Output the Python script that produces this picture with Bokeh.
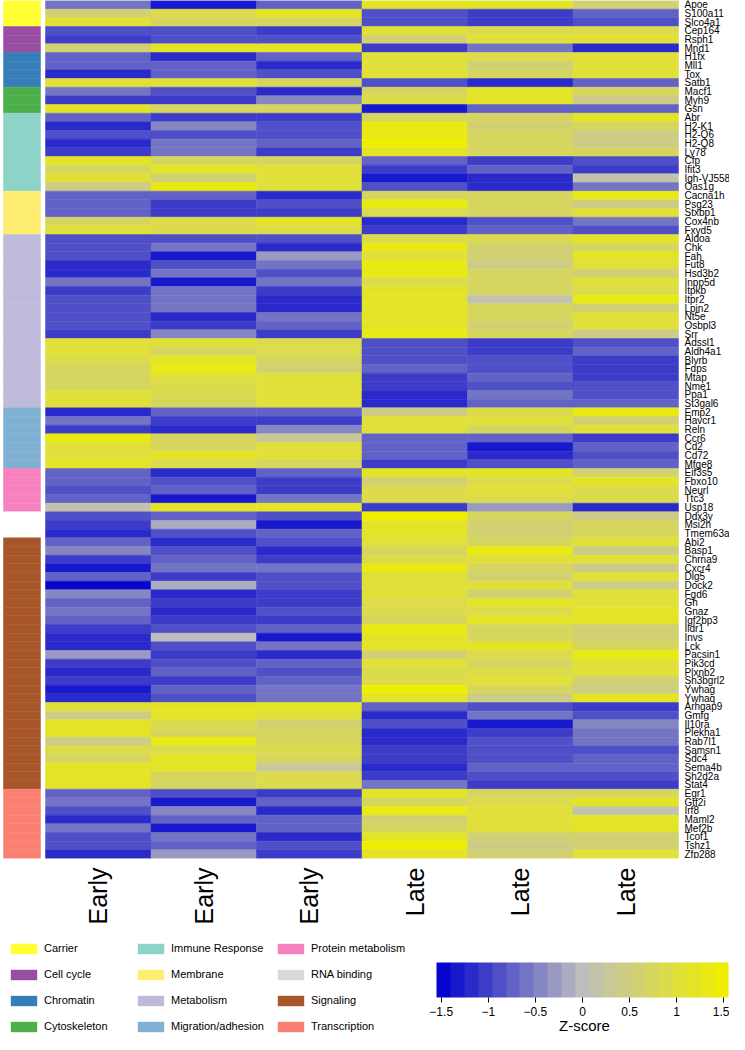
import math
import numpy as np
from bokeh.plotting import figure
from bokeh.models import (ColumnDataSource, LinearColorMapper, ColorBar, FixedTicker,
                          LinearAxis, Range1d, Legend, LegendItem, CustomJSTickFormatter, Label)
from bokeh.core.properties import value
from bokeh.transform import transform
from bokeh.layouts import column
from bokeh.embed import file_html
from bokeh.resources import INLINE

# ---------------- data ----------------
genes = ["Apoe", "S100a11", "Slco4a1", "Cep164", "Rsph1", "Mnd1", "H1fx", "Mll1", "Tox", "Satb1",
         "Macf1", "Myh9", "Gsn", "Abr", "H2-K1", "H2-Q6", "H2-Q8", "Ly78", "Cfp", "Ifit3",
         "Igh-VJ558", "Oas1g", "Cacna1h", "Psg23", "Stxbp1", "Cox4nb", "Fxyd5", "Aldoa", "Chk", "Fah",
         "Fut8", "Hsd3b2", "Inpp5d", "Itpkb", "Itpr2", "Lpin2", "Nt5e", "Osbpl3", "Srr", "Adssl1",
         "Aldh4a1", "Blvrb", "Fdps", "Mtap", "Nme1", "Ppa1", "St3gal6", "Emp2", "Havcr1", "Reln",
         "Ccr6", "Cd2", "Cd72", "Mfge8", "Eif3s5", "Fbxo10", "Neurl", "Ttc3", "Usp18", "Ddx3y",
         "Msi2h", "Tmem63a", "Abi2", "Basp1", "Chrna9", "Cxcr4", "Dlg5", "Dock2", "Fgd6", "Gh",
         "Gnaz", "Igf2bp3", "Ildr1", "Invs", "Lck", "Pacsin1", "Pik3cd", "Plxnb2", "Sh3bgrl2", "Ywhag",
         "Ywhaq", "Arhgap9", "Gmfg", "Il10ra", "Plekha1", "Rab7l1", "Samsn1", "Sdc4", "Sema4b", "Sh2d2a",
         "Stat4", "Egr1", "Gtf2i", "Irf8", "Maml2", "Mef2b", "Tcof1", "Tshz1", "Zfp288"]

samples = ["Early", "Early", "Early", "Late", "Late", "Late"]

early1 = [-0.59, 0.59, 1.03, -0.89, -1.03, 0.59, -0.74, -0.74, -1.18, 1.03,
          -0.59, -1.03, 1.18, -0.74, -1.18, -0.89, -1.18, -1.03, 1.18, 0.74,
          1.03, 0.44, -0.74, -0.74, -0.74, 0.74, 1.03, -0.89, -0.89, -0.89,
          -1.18, -1.18, -0.59, -1.03, -0.89, -0.89, -0.89, -0.89, -1.03, 1.03,
          1.03, 0.89, 0.74, 0.74, 0.74, 1.03, 1.03, -1.18, -0.59, -1.03,
          1.33, 1.03, 1.03, 1.18, -0.74, -0.74, -0.89, -0.74, 0.15, -0.89,
          -1.03, -1.18, -0.74, -0.44, -1.03, -1.33, -0.74, -1.48, -0.44, -0.74,
          -0.59, -0.74, -1.03, -1.18, -1.18, -0.30, -1.03, -1.18, -1.03, -1.33,
          -1.18, 1.03, 0.44, 1.18, 1.18, 0.44, 0.89, 0.74, 1.18, 1.18,
          1.18, -0.74, -0.59, -0.89, -1.18, -0.59, -0.89, -0.89, -1.18]

early2 = [-1.33, 0.89, 0.74, -0.89, -0.89, 1.18, -1.18, -0.74, -0.74, 1.03,
          -0.89, -1.03, 0.74, -1.03, -0.44, -0.89, -0.59, -0.59, 0.74, 1.18,
          0.59, 1.33, -0.74, -1.03, -1.03, 0.89, 0.89, -0.89, -0.59, -1.33,
          -0.89, -0.59, -1.33, -0.59, -0.59, -0.59, -1.18, -1.03, -0.44, 1.03,
          0.74, 1.18, 1.33, 1.03, 0.89, 0.89, 0.74, -0.74, -1.03, -1.18,
          0.74, 0.74, 1.18, 0.89, -1.18, -0.89, -0.74, -1.33, 1.18, -0.74,
          -0.15, -0.89, -1.18, -0.89, -0.74, -0.59, -1.03, -0.15, -1.18, -1.03,
          -1.18, -1.03, -0.89, 0.0, -0.89, -1.03, -0.89, -0.74, -1.03, -0.74,
          -0.89, 1.18, 1.18, 0.89, 0.74, 1.33, 0.89, 1.18, 1.18, 0.74,
          0.74, -0.89, -1.33, -0.44, -0.74, -1.33, -0.59, -0.74, -0.30]

early3 = [-0.74, 1.18, 0.74, -1.03, -0.89, 1.18, -0.74, -1.18, -0.89, 0.74,
          -1.18, -0.44, 0.74, -1.03, -0.89, -0.89, -0.74, -1.03, 0.74, 1.03,
          1.03, 1.03, -1.18, -0.89, -1.03, 1.18, 0.89, -0.89, -1.18, -0.30,
          -0.59, -0.89, -0.59, -1.03, -1.18, -1.18, -0.59, -0.74, -1.03, 0.89,
          0.89, 0.74, 0.59, 1.03, 1.03, 1.03, 1.03, -0.74, -1.03, -0.44,
          0.30, 1.03, 1.03, 0.74, -0.74, -1.03, -1.03, -0.59, 1.18, -0.89,
          -1.33, -0.74, -0.89, -1.18, -1.03, -0.59, -0.89, -0.89, -1.03, -1.03,
          -0.89, -1.03, -0.74, -1.33, -0.59, -1.18, -0.74, -0.89, -0.74, -0.59,
          -0.59, 1.18, 1.03, 0.59, 0.74, 0.74, 0.89, 0.74, 0.30, 0.89,
          0.89, -1.03, -0.74, -1.18, -0.74, -0.74, -1.18, -0.89, -1.03]

late1 = [1.18, -0.89, -0.89, 1.03, 0.59, -1.03, 1.03, 1.03, 1.03, -0.89,
         0.74, 0.89, -1.33, 0.74, 1.33, 1.33, 1.48, 1.18, -0.74, -1.03,
         -1.33, -0.89, 0.74, 1.33, 0.89, -1.18, -1.03, 0.89, 1.33, 1.03,
         1.33, 1.33, 0.89, 1.18, 1.18, 1.18, 1.18, 1.18, 1.33, -0.89,
         -0.89, -0.89, -0.74, -1.03, -1.03, -1.18, -1.18, 0.44, 1.03, 1.03,
         -0.74, -0.74, -0.74, -1.03, 1.18, 0.59, 0.89, 0.89, -1.03, 1.48,
         1.18, 1.18, 1.03, 0.74, 0.89, 1.33, 1.03, 1.03, 1.03, 0.89,
         0.89, 0.74, 1.33, 1.18, 1.18, 0.59, 1.03, 0.89, 0.89, 1.48,
         1.18, -0.74, -1.18, -0.89, -1.18, -1.18, -1.03, -1.03, -1.18, -1.03,
         -0.59, 1.18, 0.74, 1.33, 0.59, 0.74, 1.18, 1.48, 1.18]

late2 = [1.18, -1.03, -1.03, 0.89, 1.03, -0.59, 0.89, 0.59, 0.74, -1.18,
         1.18, 1.18, -0.74, 0.74, 0.59, 0.74, 0.74, 0.74, -1.03, -0.74,
         -1.18, -1.18, 0.74, 0.74, 0.74, -0.89, -0.74, 0.89, 0.59, 0.59,
         0.44, 0.74, 0.74, 0.74, 0.15, 0.74, 0.74, 0.59, 0.74, -1.03,
         -1.03, -0.89, -0.89, -0.74, -0.89, -0.59, -0.74, 0.89, 1.03, 0.74,
         -0.74, -1.33, -1.18, -0.89, 1.18, 0.89, 1.03, 0.89, -0.30, 0.74,
         0.59, 0.59, 0.74, 1.33, 1.03, 0.74, 0.59, 1.03, 0.59, 1.18,
         0.89, 1.18, 0.74, 0.74, 1.18, 0.89, 0.74, 0.89, 1.03, 0.74,
         0.44, -0.89, -0.59, -1.33, -1.03, -0.89, -0.89, -0.89, -0.74, -0.89,
         -1.03, 0.74, 0.89, 1.03, 1.03, 1.03, 0.59, 0.44, 0.59]

late3 = [0.59, -0.74, -0.89, 0.89, 1.03, -1.18, 1.03, 1.03, 1.03, -0.74,
         0.74, 0.44, -0.74, 1.18, 0.74, 0.44, 0.44, 0.74, -0.89, -1.03,
         0.15, -0.59, 1.33, 0.44, 1.03, -0.59, -0.89, 1.18, 0.74, 1.18,
         1.03, 0.59, 1.03, 0.89, 1.33, 0.59, 1.03, 1.03, 0.44, -0.89,
         -0.74, -1.03, -1.03, -1.03, -0.89, -0.89, -0.74, 1.33, 0.59, 1.03,
         -1.03, -0.74, -0.89, -0.74, 0.59, 1.18, 0.89, 0.89, -1.18, 0.44,
         0.74, 0.74, 1.03, 0.44, 1.03, 0.44, 1.03, 0.44, 1.03, 1.03,
         1.18, 1.18, 0.59, 0.59, 0.74, 1.33, 1.03, 1.03, 0.59, 0.44,
         1.18, -1.03, -0.89, -0.44, -0.59, -0.59, -0.89, -0.74, -0.74, -0.89,
         -1.03, 0.74, 1.18, 0.15, 1.18, 1.18, 0.59, 0.59, 1.03]

categories = ["Carrier", "Cell cycle", "Chromatin", "Cytoskeleton", "Immune Response", "Membrane",
              "Metabolism", "Migration/adhesion", "Protein metabolism", "RNA binding", "Signaling",
              "Transcription"]
category_counts = [3, 3, 4, 3, 9, 5, 20, 7, 5, 3, 29, 8]

colorbar_ticks = [-1.5, -1, -0.5, 0, 0.5, 1, 1.5]

# ---------------- styles ----------------
category_colors = ["#FFFF33", "#984EA3", "#377EB8", "#4DAF4A", "#8DD3C7", "#FFED6F",
                   "#BEBADA", "#80B1D3", "#F781BF", "#D9D9D9", "#A65628", "#FB8072"]
sidebar_override = {"RNA binding": "#FFFFFF"}
FONT = "Liberation Sans"

W = 729
H1 = 938
H2 = 96
HEAT_LEFT = 45      # canvas px where heatmap starts
HEAT_RIGHT = 678    # canvas px where heatmap ends
SIDE_L, SIDE_R = 3, 40
LABEL_GAP = 6

# palette: mediumblue -> gray -> yellow2, 21 steps
stops = [(5, 5, 205), (190, 190, 190), (238, 238, 0)]
palette = []
n_col = 21
for i in range(n_col):
    t = i / (n_col - 1) * 2
    seg = 0 if t <= 1 else 1
    f = t - seg
    a, b = stops[seg], stops[seg + 1]
    palette.append("#%02x%02x%02x" % tuple(int(round(a[k] + (b[k] - a[k]) * f)) for k in range(3)))
mapper = LinearColorMapper(palette=palette, low=-1.55, high=1.55)

# ---------------- heatmap figure ----------------
cols = [early1, early2, early3, late1, late2, late3]
hx, hy, hz = [], [], []
for j, col in enumerate(cols):
    for i, v in enumerate(col):
        hx.append(j + 0.5)
        hy.append(i + 0.5)
        hz.append(v)
heat_src = ColumnDataSource(dict(x=hx, y=hy, z=hz))

n_rows = len(genes)
n_cols = len(samples)
ppc = (HEAT_RIGHT - HEAT_LEFT) / n_cols
x0 = -HEAT_LEFT / ppc
x1 = n_cols + (W - HEAT_RIGHT) / ppc

p = figure(width=W, height=H1, x_range=Range1d(x0, x1), y_range=Range1d(n_rows, 0),
           output_backend="svg", toolbar_location=None, x_axis_location=None, y_axis_location=None,
           min_border_left=0, min_border_right=0, min_border_top=0, min_border_bottom=80,
           outline_line_color=None, title=None)
p.grid.visible = False

p.rect(x="x", y="y", width=1, height=1, source=heat_src,
       fill_color=transform("z", mapper), line_color=transform("z", mapper), line_width=0.5)

# sidebar
row_cat = []
for c, nn in zip(categories, category_counts):
    row_cat += [c] * nn
cmap = dict(zip(categories, category_colors))
side_col = [sidebar_override.get(c, cmap[c]) for c in row_cat]
side_src = ColumnDataSource(dict(y=[i + 0.5 for i in range(len(row_cat))], color=side_col))
sx0 = x0 + SIDE_L / ppc
sw = (SIDE_R - SIDE_L) / ppc
p.rect(x=sx0 + sw / 2, y="y", width=sw, height=1, source=side_src,
       fill_color="color", line_color="color", line_width=0.5)

# gene labels
gene_src = ColumnDataSource(dict(y=[i + 0.5 for i in range(n_rows)], gene=genes))
p.text(x=n_cols + LABEL_GAP / ppc, y="y", text="gene", source=gene_src,
       text_font=value(FONT), text_font_size=value("10px"), text_color="black",
       text_align="left", text_baseline="middle")

# sample labels (bottom axis)
ax_b = LinearAxis(ticker=FixedTicker(ticks=[j + 0.5 for j in range(n_cols)]),
                  major_label_overrides={j + 0.5: s for j, s in enumerate(samples)},
                  axis_line_color=None, major_tick_line_color=None, minor_tick_line_color=None,
                  major_label_text_font=FONT, major_label_text_font_size="25px",
                  major_label_text_color="black", major_label_orientation=math.pi / 2,
                  major_label_standoff=3)
p.add_layout(ax_b, "below")

# ---------------- legend + colorbar figure ----------------
p2 = figure(width=W, height=H2, x_range=Range1d(0, W), y_range=Range1d(H2, 0),
            output_backend="svg", toolbar_location=None, x_axis_location=None, y_axis_location=None,
            min_border=0, outline_line_color=None, title=None)
p2.grid.visible = False

leg_src = ColumnDataSource(dict(x=np.full(len(categories), np.nan),
                                y=np.full(len(categories), np.nan),
                                color=category_colors))
leg_r = p2.rect(x="x", y="y", width=1, height=1, source=leg_src, fill_color="color", line_color=None)
items = [LegendItem(label=c, renderers=[leg_r], index=i) for i, c in enumerate(categories)]
legend = Legend(items=items, location=(7, 0), orientation="vertical", nrows=4,
                glyph_width=33, glyph_height=13, label_height=16, label_width=80,
                label_standoff=4, spacing=10, padding=0, margin=0,
                border_line_color=None, background_fill_alpha=0,
                label_text_font=FONT, label_text_font_size="11px", label_text_color="black")
p2.add_layout(legend)

cb = ColorBar(color_mapper=mapper, orientation="horizontal", width=292, height=35,
              location=(436, 16), ticker=FixedTicker(ticks=colorbar_ticks),
              formatter=CustomJSTickFormatter(code="return tick.toString().replace('-', '\u2212')"),
              padding=0, margin=0, bar_line_color=None, border_line_color=None,
              background_fill_alpha=0, major_tick_out=5, major_tick_in=0,
              major_tick_line_color="black", minor_tick_line_color=None, label_standoff=4,
              major_label_text_font=FONT, major_label_text_font_size="12px",
              major_label_text_color="black")
p2.add_layout(cb)

p2.add_layout(Label(x=584, y=87, text="Z-score", text_align="center", text_baseline="middle",
                    text_font=FONT, text_font_size="15px", text_color="black"))

layout = column(p, p2, spacing=0)
open("out.html", "w").write(file_html(layout, INLINE))
